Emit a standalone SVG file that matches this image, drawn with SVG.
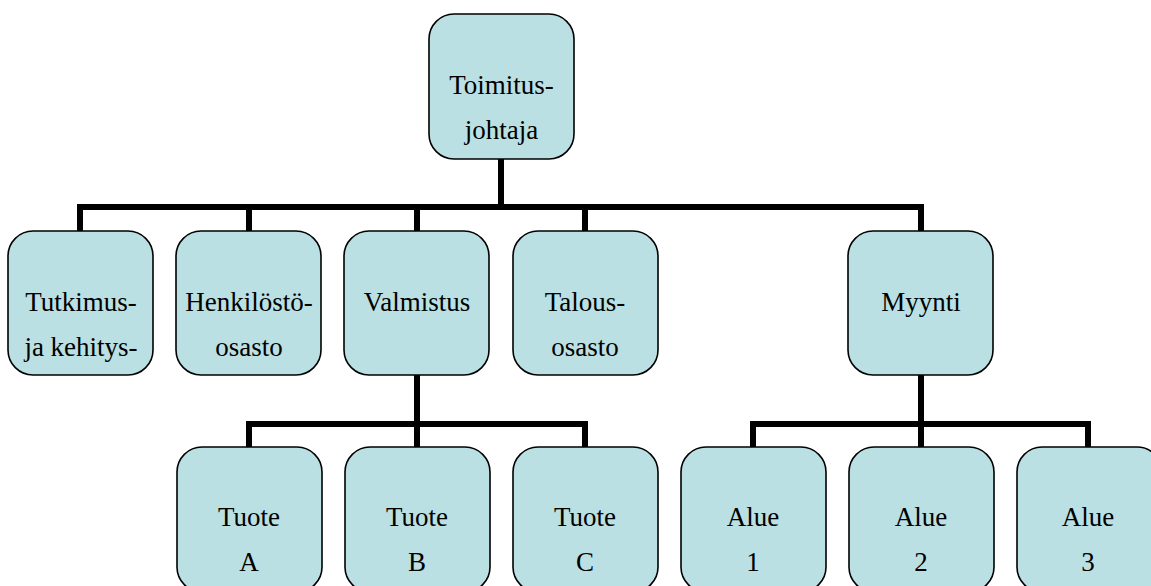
<svg xmlns="http://www.w3.org/2000/svg" width="1151" height="586" viewBox="0 0 1151 586">
<style>
.box{fill:#BBE0E3;stroke:#000;stroke-width:1.6}
.t{font-family:"Liberation Serif","Times New Roman",serif;font-size:27px;fill:#000;text-anchor:middle}
.c{fill:none;stroke:#000;stroke-width:6;stroke-linejoin:miter;stroke-linecap:butt}
</style>
<rect width="1151" height="586" fill="#fff"/>
<g id="connectors">
<path class="c" d="M501 159V207M80 231V207H921V231M249 207V231M417 207V231M585 207V231"/>
<path class="c" d="M417 375V424M249 447V424H585V447M417 424V447"/>
<path class="c" d="M921 375V424M753 447V424H1088V447M921 424V447"/>
</g>
<g id="n-toimitusjohtaja"><rect class="box" x="429" y="14" width="145" height="145" rx="25"/><text class="t" x="501.5" y="94">Toimitus-</text><text class="t" x="501.5" y="139">johtaja</text></g>
<g id="n-tutkimus"><rect class="box" x="8" y="231" width="145" height="144" rx="25"/><text class="t" x="81" y="311">Tutkimus-</text><text class="t" x="81" y="356">ja kehitys-</text></g>
<g id="n-henkilosto"><rect class="box" x="176" y="231" width="145" height="144" rx="25"/><text class="t" x="249" y="311">Henkilöstö-</text><text class="t" x="249" y="356">osasto</text></g>
<g id="n-valmistus"><rect class="box" x="344" y="231" width="145" height="144" rx="25"/><text class="t" x="417" y="311">Valmistus</text></g>
<g id="n-talous"><rect class="box" x="513" y="231" width="145" height="144" rx="25"/><text class="t" x="585" y="311">Talous-</text><text class="t" x="585" y="356">osasto</text></g>
<g id="n-myynti"><rect class="box" x="848" y="231" width="145" height="144" rx="25"/><text class="t" x="921" y="311">Myynti</text></g>
<g id="n-tuote-a"><rect class="box" x="177" y="447" width="145" height="145" rx="25"/><text class="t" x="249" y="526">Tuote</text><text class="t" x="249" y="571">A</text></g>
<g id="n-tuote-b"><rect class="box" x="345" y="447" width="145" height="145" rx="25"/><text class="t" x="417" y="526">Tuote</text><text class="t" x="417" y="571">B</text></g>
<g id="n-tuote-c"><rect class="box" x="513" y="447" width="145" height="145" rx="25"/><text class="t" x="585" y="526">Tuote</text><text class="t" x="585" y="571">C</text></g>
<g id="n-alue-1"><rect class="box" x="681" y="447" width="145" height="145" rx="25"/><text class="t" x="753" y="526">Alue</text><text class="t" x="753" y="571">1</text></g>
<g id="n-alue-2"><rect class="box" x="849" y="447" width="145" height="145" rx="25"/><text class="t" x="921" y="526">Alue</text><text class="t" x="921" y="571">2</text></g>
<g id="n-alue-3"><rect class="box" x="1017" y="447" width="145" height="145" rx="25"/><text class="t" x="1088" y="526">Alue</text><text class="t" x="1088" y="571">3</text></g>
</svg>
